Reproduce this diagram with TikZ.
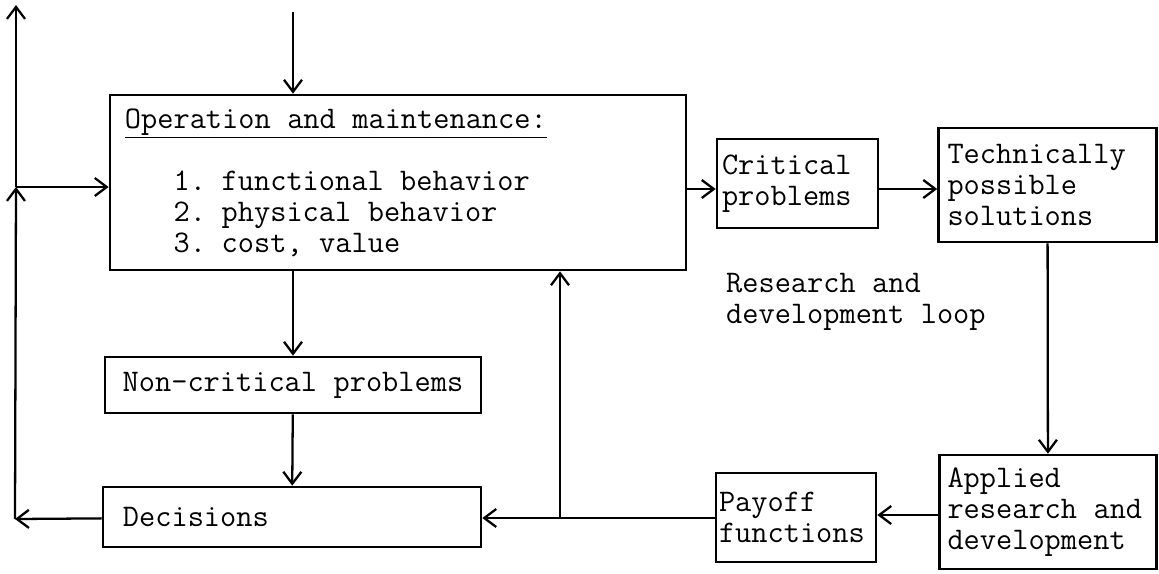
\documentclass[tikz,border=0pt]{standalone}
\usepackage{tikz}
\usetikzlibrary{arrows.meta}
\newcommand\typfont{\fontsize{17.9}{17.64}\selectfont\ttfamily}
\tikzset{
  blok/.style={draw, line width=1.5pt, align=left, inner ysep=0pt},
}

\begin{document}
\begin{tikzpicture}[x=0.2mm, y=-0.2mm, line width=1.3pt,
    >={Straight Barb[length=2.4mm,width=3.6mm]},
    node font=\typfont, execute at begin node=\setlength\spaceskip{.525em}]
  \useasboundingbox (0,0) rectangle (1159,573);

  % boxes
  \node[blok, inner xsep=3mm, text width=109.2mm, minimum height=35mm] (op) at (398,182.5)
    {\underline{Operation and maintenance:}\\[6.2mm]
     \phantom{000}1. functional behavior\\
     \phantom{000}2. physical behavior\\
     \phantom{000}3. cost, value};
  \node[blok, minimum width=75.2mm, minimum height=11.2mm] (nc) at (293,385) {Non-critical problems};
  \node[blok, inner xsep=4mm, text width=67.6mm, minimum height=12mm] (dec) at (292,517) {Decisions};
  \node[blok, inner xsep=1mm, text width=30.2mm, minimum height=17.8mm] (crit) at (797.5,183.5) {Critical\\problems};
  \node[blok, inner xsep=1.8mm, text width=40mm, minimum height=22.8mm] (tech) at (1047.5,185) {Technically\\possible\\solutions};
  \node[blok, inner xsep=1.6mm, text width=40.2mm, minimum height=22.8mm] (app) at (1048,512) {Applied\\research and\\development};
  \node[blok, inner xsep=0.6mm, text width=30.8mm, minimum height=17.8mm] (pay) at (796,517.5) {Payoff\\functions};
  \node[align=left, anchor=west, inner sep=0pt] (loop) at (725,302) {Research and\\development loop};

  % connectors
  \coordinate (intop) at (293,12);
  \coordinate (lt) at (16,5);
  \coordinate (lm) at (16,187);
  \coordinate (lb) at (15,519);
  \coordinate (jn) at (560,518);

  \draw[->] (intop) -- (intop |- op.north);
  \draw[->] (dec) -- (lb);
  \draw[->] (lb) -- (lm);
  \draw[->] (lm) -- (lt);
  \draw[->] (lm) -- (lm -| op.west);
  \draw[->] (nc |- op.south) -- (nc);
  \draw[->] (nc) -- (dec);
  \draw[->] (op.east |- 0,189) -- (crit.west |- 0,189);
  \draw[->] (crit.east |- 0,189) -- (tech.west |- 0,189);
  \draw[->] (tech) -- (app);
  \draw[->] (app.west |- 0,515) -- (pay.east |- 0,515);
  \draw[->] (pay.west |- jn) -- (jn -| dec.east);
  \draw[->] (jn) -- (jn |- op.south);
\end{tikzpicture}
\end{document}
